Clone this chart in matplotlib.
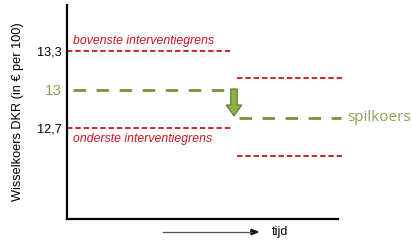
import matplotlib.pyplot as plt
from matplotlib.patches import FancyArrow

# waarden (wisselkoers DKR in euro per 100)
oud_boven, oud_spil, oud_onder = 13.3, 13.0, 12.7
nieuw_boven, nieuw_spil, nieuw_onder = 13.09, 12.78, 12.48
tick_waarden = [12.7, 13.0, 13.3]
tick_labels = ['12,7', '13', '13,3']

rood = '#C8141E'
groen = '#77933C'
groen_tekst = '#86A455'

plt.rcParams['font.family'] = ['Liberation Sans', 'DejaVu Sans']

fig = plt.figure(figsize=(4.12, 2.42), dpi=100)
ax = fig.add_axes([0.1626, 0.095, 0.658, 0.884])
ax.set_xlim(0, 100)
ax.set_ylim(11.99, 13.66)

for s in ['top', 'right']:
    ax.spines[s].set_visible(False)
ax.spines['left'].set_linewidth(1.6)
ax.spines['bottom'].set_linewidth(1.6)

# oude grenzen
ax.plot([0, 60.9], [oud_boven] * 2, color=rood, lw=1.3, dashes=(3, 1.6))
ax.plot([0, 60.9], [oud_onder] * 2, color=rood, lw=1.3, dashes=(3, 1.6))
ax.plot([2.2, 60.9], [oud_spil] * 2, color=groen, lw=2, dashes=(4.5, 3.8))

# nieuwe grenzen na devaluatie
ax.plot([62.7, 101.5], [nieuw_boven] * 2, color=rood, lw=1.3, dashes=(3, 1.6), clip_on=False)
ax.plot([62.7, 101.5], [nieuw_onder] * 2, color=rood, lw=1.3, dashes=(3, 1.6), clip_on=False)
ax.plot([63.5, 101], [nieuw_spil] * 2, color=groen, lw=2, dashes=(4.5, 3.8), clip_on=False)

# pijl omlaag
ax.add_patch(FancyArrow(61.6, oud_spil + 0.005, 0, nieuw_spil - oud_spil + 0.01,
                        width=2.4, head_width=5.8, head_length=0.085,
                        length_includes_head=True, facecolor='#8DB04A',
                        edgecolor='#5E7A2A', lw=0.8, zorder=3))

ax.text(2.2, oud_boven + 0.035, 'bovenste interventiegrens', color=rood,
        style='italic', fontsize=8.8, va='bottom', ha='left')
ax.text(2.2, oud_onder - 0.035, 'onderste interventiegrens', color=rood,
        style='italic', fontsize=8.8, va='top', ha='left')
ax.text(103.5, nieuw_spil + 0.005, 'spilkoers', color=groen_tekst, fontsize=11,
        va='center', ha='left', family=['Open Sans', 'DejaVu Sans'])

ax.set_xticks([])
ax.set_yticks(tick_waarden)
ax.set_yticklabels(tick_labels, fontsize=9.2)
ax.tick_params(axis='y', length=0, pad=4)
ax.get_yticklabels()[1].set_color(groen_tekst)
ax.get_yticklabels()[1].set_fontsize(11)

ax.set_ylabel('Wisselkoers DKR (in € per 100)', fontsize=9.2, labelpad=9)

# tijd-pijl onder de x-as
fig.add_artist(plt.Line2D([163 / 412, 252 / 412], [1 - 232 / 242] * 2,
                          color='#555555', lw=0.9))
fig.add_artist(FancyArrow(250 / 412, 1 - 232 / 242, 8 / 412, 0, width=0.0,
                          head_width=0.022, head_length=7 / 412,
                          length_includes_head=True, color='#111111',
                          transform=fig.transFigure))
fig.text(272 / 412, 1 - 232 / 242, 'tijd', fontsize=9, va='center', ha='left')

fig.savefig('out.png', dpi=100)
